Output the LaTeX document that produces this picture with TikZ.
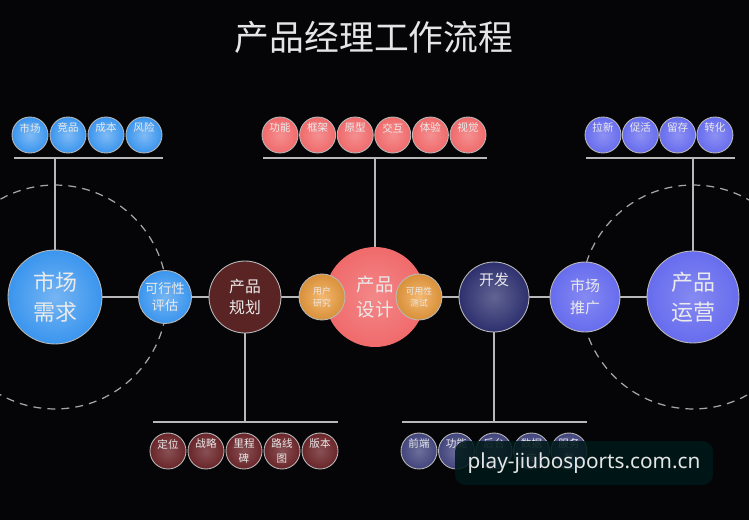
\documentclass[tikz,border=0pt]{standalone}
\usepackage{fontspec}
\setmainfont{Noto Sans}
\newfontfamily\cjk{Noto Sans CJK SC}
\usetikzlibrary{backgrounds}
\definecolor{grund}{HTML}{050508}
\definecolor{blau}{HTML}{3A95EE}
\definecolor{rosa}{HTML}{F06A6B}
\definecolor{orange}{HTML}{F0A040}
\definecolor{braun}{HTML}{5A2425}
\definecolor{weinrot}{HTML}{6A2529}
\definecolor{navy}{HTML}{2D306E}
\definecolor{lila}{HTML}{676CEE}
\tikzset{
 kugel/.style={circle, inner sep=0pt, minimum size=#1, draw=gray!55, line width=0.5pt, text=white!92!black, align=center},
 klein/.style={kugel=0.72cm, font=\cjk\fontsize{6}{8.5}\selectfont},
 linie/.style={draw=white!72!black, line width=0.9pt},
 strich/.style={draw=gray!70, line width=0.7pt, dash pattern=on 4.5pt off 3.5pt}
}
\begin{document}
\begin{tikzpicture}[x=0.02cm, y=-0.02cm, font=\cjk]
\useasboundingbox (0,0) rectangle (749,520);
\node[text=white!90!black, font=\cjk\fontsize{19.8}{22}\selectfont] (titel) at (374,37) {产品经理工作流程};
% Hauptkette
\node[kugel=1.88cm, inner color=blau!70!white, outer color=blau, font=\cjk\fontsize{12.5}{17}\selectfont] (markt) at (55,297) {市场\\需求};
\node[kugel=1.06cm, inner color=blau!70!white, outer color=blau, font=\cjk\fontsize{7.5}{9.5}\selectfont] (pruef) at (165,297) {可行性\\评估};
\node[kugel=1.44cm, fill=braun, font=\cjk\fontsize{9}{11.5}\selectfont] (plan) at (245,297) {产品\\规划};
\node[kugel=2.0cm, inner color=rosa!80!white, outer color=rosa, draw=none, font=\cjk\fontsize{10.5}{14}\selectfont] (design) at (375,297) {产品\\设计};
\node[kugel=0.92cm, inner color=orange!75!white, outer color=orange!90!black, font=\cjk\fontsize{5}{7}\selectfont] (nutzer) at (322,297) {用户\\研究};
\node[kugel=0.92cm, inner color=orange!75!white, outer color=orange!90!black, font=\cjk\fontsize{5}{7}\selectfont] (test) at (419,297) {可用性\\测试};
\node[kugel=1.4cm, inner color=navy!75!white, outer color=navy, font=\cjk\fontsize{8.5}{20}\selectfont] (dev) at (494,297) {开发\\\mbox{}};
\node[kugel=1.4cm, inner color=lila!80!white, outer color=lila, font=\cjk\fontsize{8.5}{12.5}\selectfont] (promo) at (585,297) {市场\\推广};
\node[kugel=1.84cm, inner color=lila!80!white, outer color=lila, font=\cjk\fontsize{12.5}{17}\selectfont] (betrieb) at (693,297) {产品\\运营};
% Unterpunkte oben
\foreach \t [count=\i] in {市场,竞品,成本,风险}
 \node[klein, inner color=blau!65!white, outer color=blau] (a-\i) at ({-8+38*\i},135) {\t\\\mbox{}};
\foreach \t [count=\i] in {功能,框架,原型,交互,体验,视觉}
 \node[klein, inner color=rosa!75!white, outer color=rosa] (b-\i) at ({242.4+37.6*\i},135) {\t\\\mbox{}};
\foreach \t [count=\i] in {拉新,促活,留存,转化}
 \node[klein, inner color=lila!75!white, outer color=lila] (c-\i) at ({565.7+37.3*\i},135) {\t\\\mbox{}};
% Unterpunkte unten
\foreach \t [count=\i] in {定位\\\mbox{},战略\\\mbox{},里程\\碑,路线\\图,版本\\\mbox{}}
 \node[klein, inner color=weinrot!80!white, outer color=weinrot] (d-\i) at ({130+38*\i},451) {\t};
\foreach \t [count=\i] in {前端\\\mbox{},功能\\\mbox{},后台\\\mbox{},数据\\库,服务\\器}
 \node[klein, inner color=navy!70!white, outer color=navy!90!white] (e-\i) at ({381.5+37.5*\i},451) {\t};
% Leisten
\coordinate (la1) at (14,158); \coordinate (la2) at (163,158);
\coordinate (lb1) at (263,158); \coordinate (lb2) at (487,158);
\coordinate (lc1) at (586,158); \coordinate (lc2) at (735,158);
\coordinate (ld1) at (153,422); \coordinate (ld2) at (338,422);
\coordinate (le1) at (402,422); \coordinate (le2) at (587,422);
\begin{scope}[on background layer]
 \fill[grund] (0,0) rectangle (749,520);
 \draw[strich] (markt.center) circle (2.24cm); \draw[strich] (betrieb.center) circle (2.24cm);
 \draw[linie] (markt.center) -- (pruef.center) -- (plan.center) -- (design.center) -- (dev.center) -- (promo.center) -- (betrieb.center);
 \foreach \p in {a,b,c,d,e} {\draw[linie] (l\p1) -- (l\p2);}
 \draw[linie] (markt) -- (markt |- la1); \draw[linie] (design) -- (design |- lb1); \draw[linie] (betrieb) -- (betrieb |- lc1);
 \draw[linie] (plan) -- (plan |- ld1); \draw[linie] (dev) -- (dev |- le1);
\end{scope}
% Wasserzeichen
\node[fill=black!80!teal, fill opacity=0.88, text opacity=1, rounded corners=6pt, minimum width=5.16cm, minimum height=0.88cm, text=white!90!black, font=\fontsize{11.8}{14}\selectfont] (wz) at (584,463) {play-jiubosports.com.cn};
\end{tikzpicture}
\end{document}
